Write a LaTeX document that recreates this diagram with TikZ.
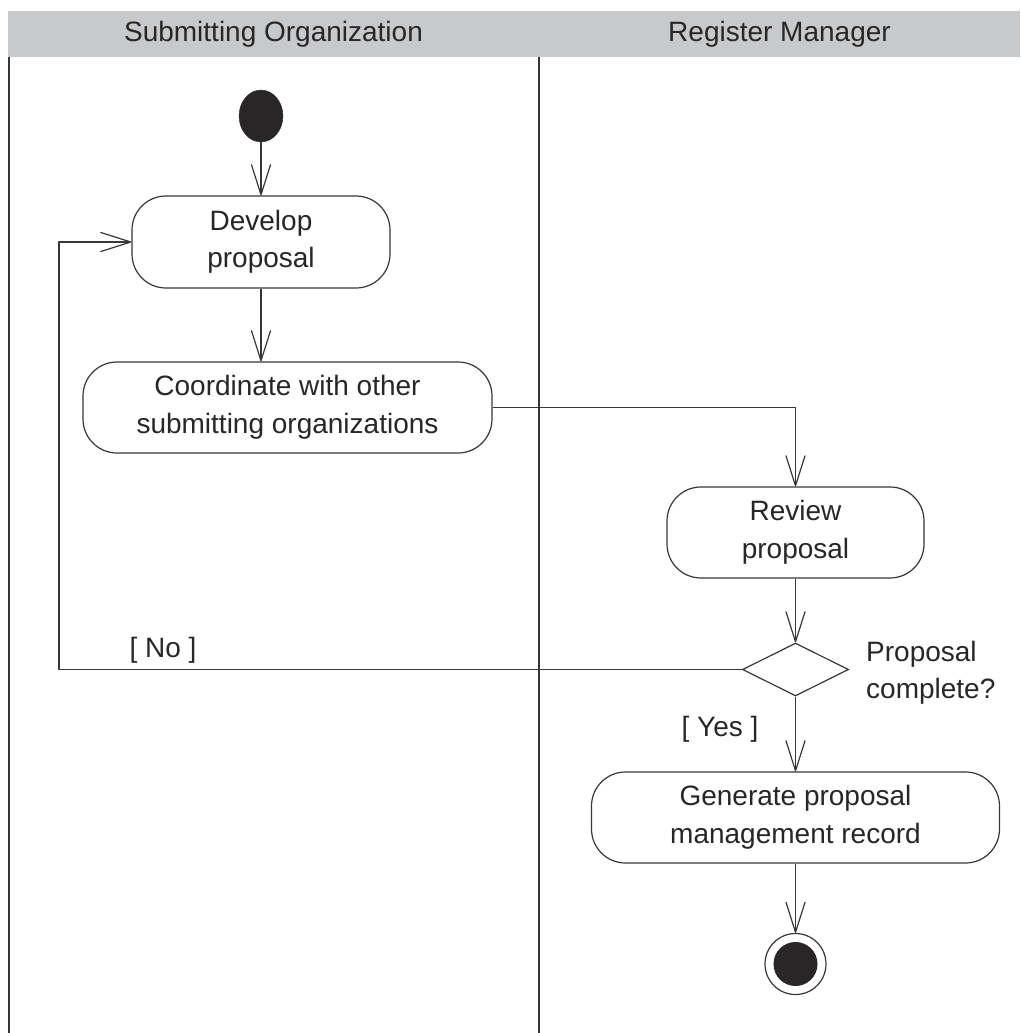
\documentclass[tikz,border=0pt]{standalone}
\usepackage{fontspec}
\setmainfont{Liberation Sans}
\usetikzlibrary{arrows.meta,shapes.geometric,calc}
\definecolor{hdrgray}{RGB}{200,201,203}
\definecolor{ink}{RGB}{40,38,38}
\definecolor{linec}{RGB}{55,55,55}
\tikzset{
  lbl/.style={font=\fontsize{28}{37.5}\selectfont, text=ink, inner sep=0pt},
  actbox/.style={draw=linec, line width=1.2pt, rounded corners=34pt, align=center,
    font=\fontsize{28}{37.5}\selectfont, text=ink, inner sep=0pt, fill=white},
  decbox/.style={draw=linec, line width=1.2pt, shape=diamond, aspect=2, inner sep=0pt,
    minimum width=106pt, minimum height=53pt, fill=white},
  flow/.style={draw=linec, line width=1.2pt, line join=round,
    -{Straight Barb[length=30pt,width=19pt,line width=1.2pt,round]}},
  plain/.style={draw=linec, line width=1.2pt},
  lane/.style={draw=linec, line width=1.2pt}
}
\begin{document}
\begin{tikzpicture}[x=1pt,y=-1pt]
\useasboundingbox (0,0) rectangle (1020,1033);
% header
\fill[hdrgray] (8,11) rectangle (1020,57);
\node[lbl] (h1) at (273.5,34) {Submitting Organization};
\node[lbl] (h2) at (779.5,34) {Register Manager};
% lanes
\draw[lane] (9,57) -- (9,1033);
\draw[lane] (539,57) -- (539,1033);
% nodes
\node[draw=linec, fill=ink, ellipse, minimum width=44pt, minimum height=52pt, inner sep=0pt] (start) at (261,116) {};
\node[actbox, minimum width=258pt, minimum height=92pt] (develop) at (261,242) {Develop\\proposal};
\node[actbox, minimum width=409pt, minimum height=91pt] (coord) at (287.5,407.5) {Coordinate with other\\submitting organizations};
\node[actbox, minimum width=257pt, minimum height=91pt] (review) at (795.5,532.5) {Review\\proposal};
\node[decbox] (dec) at (795.5,669.5) {};
\node[actbox, minimum width=408pt, minimum height=91pt] (gen) at (795.5,817.5) {Generate proposal\\management record};
\node[draw=linec, line width=1.2pt, circle, minimum size=61pt, inner sep=0pt] (final) at (795.5,964) {};
\node[fill=ink, circle, minimum size=44pt, inner sep=0pt] (finaldot) at (final.center) {};
% labels
\node[lbl] (no) at (163,650) {[ No ]};
\node[lbl] (yes) at (720,729) {[ Yes ]};
\node[lbl, anchor=north west, align=left] (q) at (866,641) {Proposal\\complete?};
% connectors
\coordinate (loopA) at (59,669.5);
\draw[flow] (start) -- (develop.north);
\draw[flow] (develop.south) -- (develop.south |- coord.north);
\draw[flow] (coord.east) -| (review.north);
\draw[flow] (review.south) -- (dec.north);
\draw[flow] (dec.west) -- (loopA) |- (develop.west);
\draw[flow] (dec.south) -- (gen.north);
\draw[flow] (gen.south) -- (final.north);
\end{tikzpicture}
\end{document}
